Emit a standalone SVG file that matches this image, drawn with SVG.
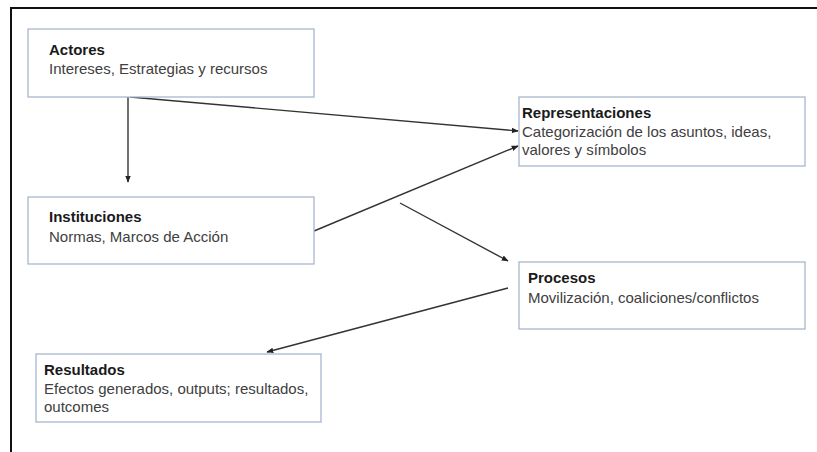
<svg xmlns="http://www.w3.org/2000/svg" width="817" height="452" viewBox="0 0 817 452">
<defs>
<style>
.box{fill:#fff;stroke:#aab7cc;stroke-width:1.3}
.t{font-family:"Liberation Sans",Arial,sans-serif;font-size:15px;font-weight:bold;fill:#1a1a1a}
.b{font-family:"Liberation Sans",Arial,sans-serif;font-size:15px;fill:#404040}
.c{stroke:#333;stroke-width:1.4;fill:none;marker-end:url(#ah)}
</style>
<marker id="ah" viewBox="0 0 10 10" refX="9" refY="5" markerWidth="5" markerHeight="5" orient="auto"><path d="M0,1 L10,5 L0,9 z" fill="#222"/></marker>
</defs>
<rect width="817" height="452" fill="#fff"/>
<g id="frame">
<line x1="11" y1="8" x2="817" y2="8" stroke="#111" stroke-width="2"/>
<line x1="11" y1="7" x2="11" y2="452" stroke="#111" stroke-width="2"/>
</g>
<g id="connectors">
<path class="c" d="M128,97 L128,182"/>
<path class="c" d="M130,97 L518,131"/>
<path class="c" d="M314,231 L518,146"/>
<path class="c" d="M400,203 L508,261"/>
<path class="c" d="M508,288 L267,352"/>
</g>
<g id="actores">
<rect class="box" x="28" y="29" width="286" height="68"/>
<text class="t" x="49" y="55">Actores</text>
<text class="b" x="49" y="74">Intereses, Estrategias y recursos</text>
</g>
<g id="representaciones">
<rect class="box" x="519" y="97" width="286" height="69"/>
<text class="t" x="522" y="118">Representaciones</text>
<text class="b" x="522" y="137">Categorización de los asuntos, ideas,</text>
<text class="b" x="522" y="155">valores y símbolos</text>
</g>
<g id="instituciones">
<rect class="box" x="28" y="197" width="286" height="67"/>
<text class="t" x="49" y="222">Instituciones</text>
<text class="b" x="49" y="242">Normas, Marcos de Acción</text>
</g>
<g id="procesos">
<rect class="box" x="519" y="262" width="286" height="67"/>
<text class="t" x="528" y="283">Procesos</text>
<text class="b" x="528" y="303">Movilización, coaliciones/conflictos</text>
</g>
<g id="resultados">
<rect class="box" x="36" y="354" width="285" height="68"/>
<text class="t" x="44" y="375">Resultados</text>
<text class="b" x="44" y="394">Efectos generados, outputs; resultados,</text>
<text class="b" x="44" y="412">outcomes</text>
</g>
</svg>
